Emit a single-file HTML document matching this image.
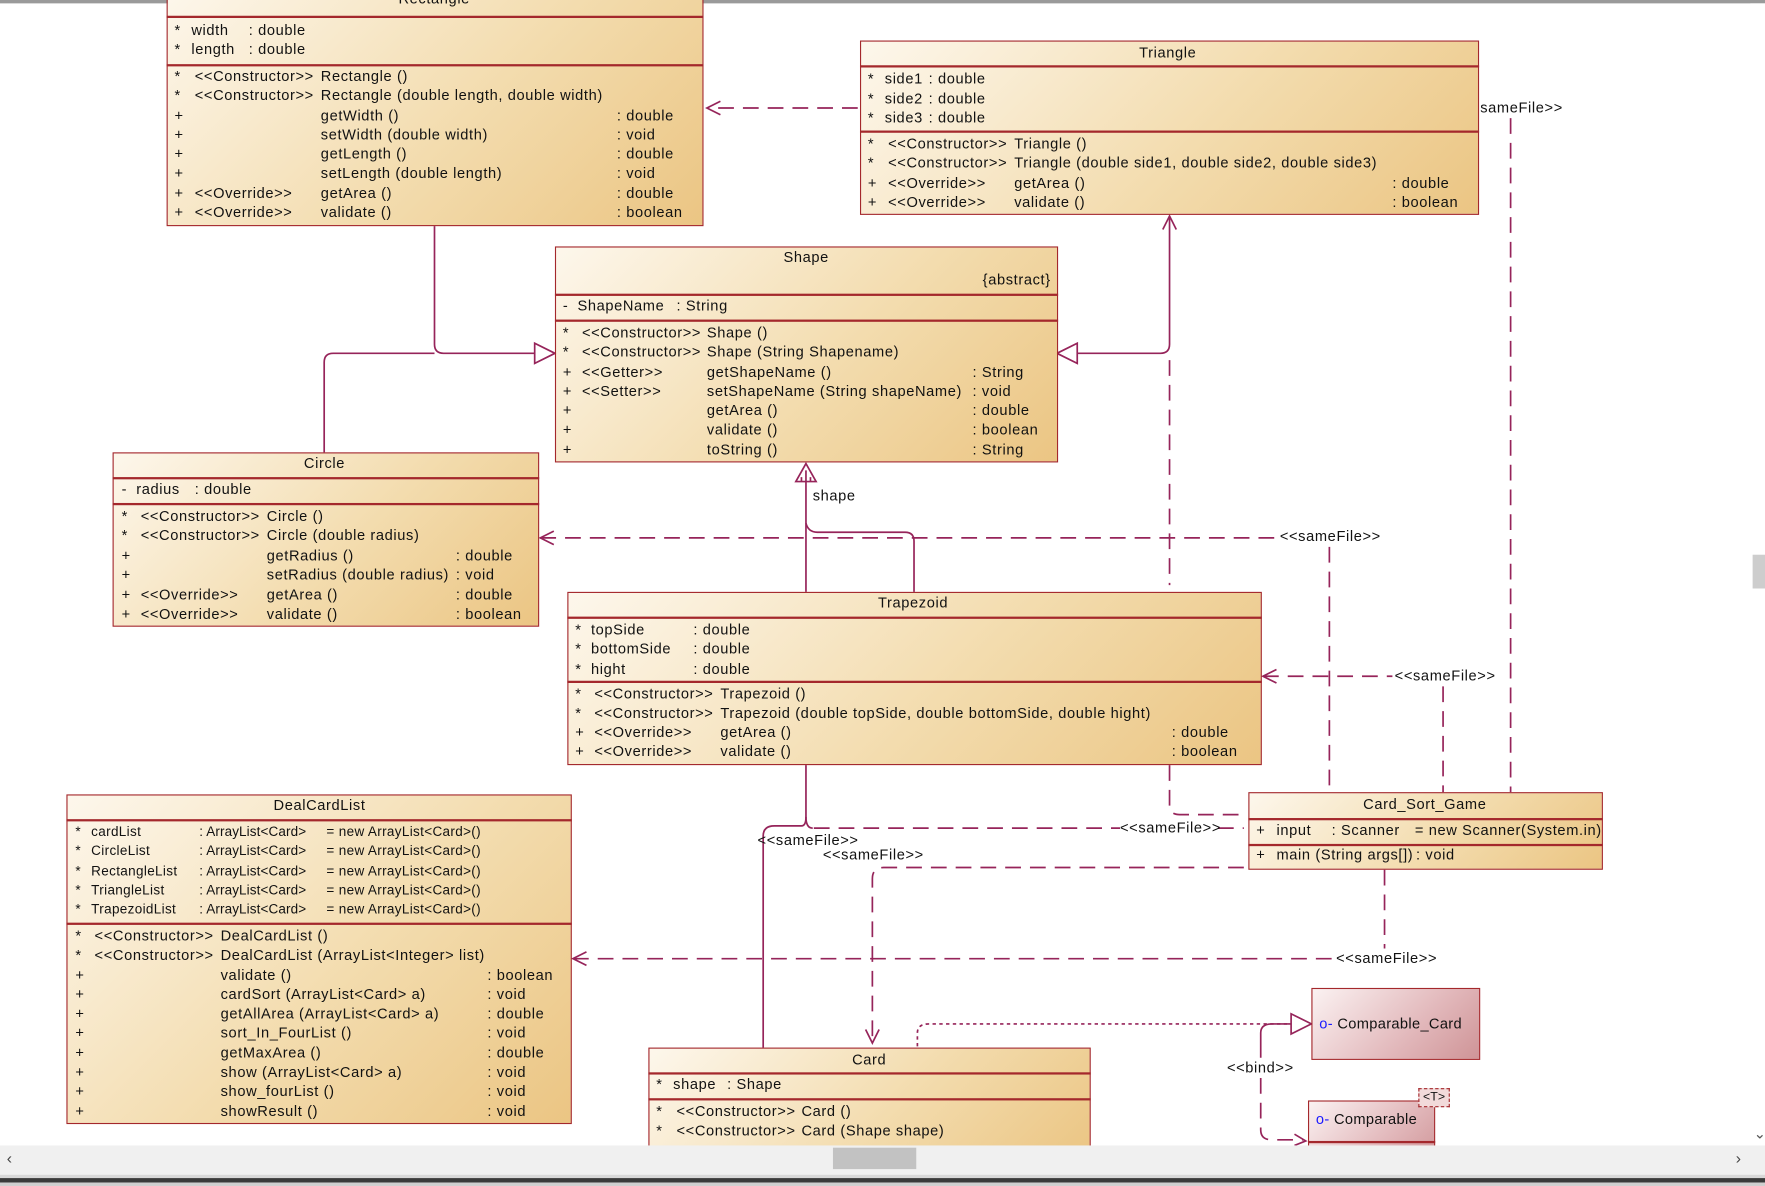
<!DOCTYPE html>
<html><head><meta charset="utf-8"><style>
html,body{margin:0;padding:0;background:#fff;width:1765px;height:1186px;overflow:hidden}
#w{position:absolute;left:0;top:0;width:1568px;height:1054px;transform:scale(1.12564,1.1252);transform-origin:0 0;font-family:"Liberation Sans",sans-serif;font-size:13px;letter-spacing:0.55px;color:#111}
.b{position:absolute;border:1.5px solid #a4282c;background:linear-gradient(135deg,#fdf7ec 0%,#f3dcae 55%,#ebc583 100%);box-sizing:border-box}
.p{position:absolute;border:1.5px solid #a4282c;background:linear-gradient(135deg,#fbf2f2 0%,#e2b8bb 60%,#cf9497 100%);box-sizing:border-box}
.h{position:absolute;height:1.5px;background:#a4282c}
.t{position:absolute;line-height:16px;white-space:pre}
svg{position:absolute;left:0;top:0}
</style></head><body><div id="w">
<div style="position:absolute;left:0;top:0;width:1568px;height:3px;background:#9a9a9a"></div>
<svg width="1568" height="1054" fill="none" stroke="#96245a" stroke-width="1.5">
<g stroke-dasharray="14,8">
<path d="M762 96H628"/><path d="M1342 105V704"/>
<path d="M480 478H1135"/><path d="M1181 486V704"/>
<path d="M1122 601H1237"/><path d="M1282 610V704"/>
<path d="M1039 320V520"/><path d="M1039 680V716Q1039 724 1048 724H1105"/>
<path d="M723 736H995"/><path d="M1082 736H1105"/>
<path d="M1105 771H785Q775 771 775 781V925"/>
<path d="M509 852H1186"/><path d="M1230 773V843"/>
<path d="M1120 958V1004Q1120 1013 1130 1013H1158"/>
</g>
<path d="M815 930V918Q815 910 825 910H1147" stroke-dasharray="3,3"/>
<path d="M1120 940V918Q1120 910 1130 910H1147"/>
<path d="M1165 910L1147 901V919Z"/>
<path d="M1150 1008L1160 1014L1150 1018"/>
<path d="M640 90L628 96L640 102"/>
<path d="M492 484L480 478L492 472"/>
<path d="M1134 607L1122 601L1134 595"/>
<path d="M521 846L509 852L521 858"/>
<path d="M769 915L775 927L781 915"/>
<path d="M1033 204L1039 192L1045 204"/>
<path d="M386 201V306Q386 314 394 314H475"/>
<path d="M288 402V322Q288 314 296 314H386"/>
<path d="M493 314L475 305V323Z"/>
<path d="M1039 192V306Q1039 314 1031 314H957"/>
<path d="M939 314L957 305V323Z"/>
<path d="M716 526V428"/><path d="M716 412L707 428H725Z"/><path d="M716 418V428M712 424V428M720 424V428"/>
<path d="M812 526V481Q812 473 804 473H726Q718 473 716 465"/>
<path d="M716 680V726Q716 736 722 736"/>
<path d="M678 931V743Q678 734 688 734H712Q716 734 716 726"/>
</svg>
<div class="t" style="left:1315px;top:88px">sameFile&gt;&gt;</div>
<div class="t" style="left:1137px;top:469px">&lt;&lt;sameFile&gt;&gt;</div>
<div class="t" style="left:1239px;top:593px">&lt;&lt;sameFile&gt;&gt;</div>
<div class="t" style="left:995px;top:728px">&lt;&lt;sameFile&gt;&gt;</div>
<div class="t" style="left:673px;top:739px">&lt;&lt;sameFile&gt;&gt;</div>
<div class="t" style="left:731px;top:752px">&lt;&lt;sameFile&gt;&gt;</div>
<div class="t" style="left:1187px;top:844px">&lt;&lt;sameFile&gt;&gt;</div>
<div class="t" style="left:722px;top:433px">shape</div>
<div class="t" style="left:1090px;top:941px">&lt;&lt;bind&gt;&gt;</div>

<!-- Rectangle -->
<div class="b" style="left:148px;top:-10px;width:477px;height:211px"></div>
<div class="h" style="left:148px;top:14px;width:477px"></div>
<div class="h" style="left:148px;top:57px;width:477px"></div>
<div class="t" style="left:354px;top:-9px">Rectangle</div>
<div class="t" style="left:155px;top:19px">*</div><div class="t" style="left:170px;top:19px">width</div><div class="t" style="left:221px;top:19px">: double</div>
<div class="t" style="left:155px;top:36px">*</div><div class="t" style="left:170px;top:36px">length</div><div class="t" style="left:221px;top:36px">: double</div>
<div class="t" style="left:155px;top:59px;line-height:17.3px">*
*
+
+
+
+
+
+</div>
<div class="t" style="left:173px;top:59px;line-height:17.3px">&lt;&lt;Constructor&gt;&gt;
&lt;&lt;Constructor&gt;&gt;




&lt;&lt;Override&gt;&gt;
&lt;&lt;Override&gt;&gt;</div>
<div class="t" style="left:285px;top:59px;line-height:17.3px">Rectangle ()
Rectangle (double length, double width)
getWidth ()
setWidth (double width)
getLength ()
setLength (double length)
getArea ()
validate ()</div>
<div class="t" style="left:548px;top:59px;line-height:17.3px">

: double
: void
: double
: void
: double
: boolean</div>

<!-- Triangle -->
<div class="b" style="left:764px;top:36px;width:550px;height:155px"></div>
<div class="h" style="left:764px;top:58px;width:550px"></div>
<div class="h" style="left:764px;top:116px;width:550px"></div>
<div class="t" style="left:1012px;top:39px">Triangle</div>
<div class="t" style="left:771px;top:61px;line-height:17.5px">*
*
*</div>
<div class="t" style="left:786px;top:61px;line-height:17.5px">side1
side2
side3</div>
<div class="t" style="left:825px;top:61px;line-height:17.5px">: double
: double
: double</div>
<div class="t" style="left:771px;top:119px;line-height:17.3px">*
*
+
+</div>
<div class="t" style="left:789px;top:119px;line-height:17.3px">&lt;&lt;Constructor&gt;&gt;
&lt;&lt;Constructor&gt;&gt;
&lt;&lt;Override&gt;&gt;
&lt;&lt;Override&gt;&gt;</div>
<div class="t" style="left:901px;top:119px;line-height:17.3px">Triangle ()
Triangle (double side1, double side2, double side3)
getArea ()
validate ()</div>
<div class="t" style="left:1237px;top:119px;line-height:17.3px">

: double
: boolean</div>

<!-- Shape -->
<div class="b" style="left:493px;top:219px;width:447px;height:192px"></div>
<div class="h" style="left:493px;top:261px;width:447px"></div>
<div class="h" style="left:493px;top:284px;width:447px"></div>
<div class="t" style="left:696px;top:221px">Shape</div>
<div class="t" style="left:873px;top:241px">{abstract}</div>
<div class="t" style="left:500px;top:264px">-</div><div class="t" style="left:513px;top:264px">ShapeName</div><div class="t" style="left:601px;top:264px">: String</div>
<div class="t" style="left:500px;top:287px;line-height:17.3px">*
*
+
+
+
+
+</div>
<div class="t" style="left:517px;top:287px;line-height:17.3px">&lt;&lt;Constructor&gt;&gt;
&lt;&lt;Constructor&gt;&gt;
&lt;&lt;Getter&gt;&gt;
&lt;&lt;Setter&gt;&gt;</div>
<div class="t" style="left:628px;top:287px;line-height:17.3px">Shape ()
Shape (String Shapename)
getShapeName ()
setShapeName (String shapeName)
getArea ()
validate ()
toString ()</div>
<div class="t" style="left:864px;top:287px;line-height:17.3px">

: String
: void
: double
: boolean
: String</div>

<!-- Circle -->
<div class="b" style="left:100px;top:402px;width:379px;height:155px"></div>
<div class="h" style="left:100px;top:424px;width:379px"></div>
<div class="h" style="left:100px;top:447px;width:379px"></div>
<div class="t" style="left:270px;top:404px">Circle</div>
<div class="t" style="left:108px;top:427px">-</div><div class="t" style="left:121px;top:427px">radius</div><div class="t" style="left:173px;top:427px">: double</div>
<div class="t" style="left:108px;top:450px;line-height:17.4px">*
*
+
+
+
+</div>
<div class="t" style="left:125px;top:450px;line-height:17.4px">&lt;&lt;Constructor&gt;&gt;
&lt;&lt;Constructor&gt;&gt;


&lt;&lt;Override&gt;&gt;
&lt;&lt;Override&gt;&gt;</div>
<div class="t" style="left:237px;top:450px;line-height:17.4px">Circle ()
Circle (double radius)
getRadius ()
setRadius (double radius)
getArea ()
validate ()</div>
<div class="t" style="left:405px;top:450px;line-height:17.4px">

: double
: void
: double
: boolean</div>

<!-- Trapezoid -->
<div class="b" style="left:504px;top:526px;width:617px;height:154px"></div>
<div class="h" style="left:504px;top:548px;width:617px"></div>
<div class="h" style="left:504px;top:605px;width:617px"></div>
<div class="t" style="left:780px;top:528px">Trapezoid</div>
<div class="t" style="left:511px;top:551px;line-height:17.4px">*
*
*</div>
<div class="t" style="left:525px;top:551px;line-height:17.4px">topSide
bottomSide
hight</div>
<div class="t" style="left:616px;top:551px;line-height:17.4px">: double
: double
: double</div>
<div class="t" style="left:511px;top:608px;line-height:17.1px">*
*
+
+</div>
<div class="t" style="left:528px;top:608px;line-height:17.1px">&lt;&lt;Constructor&gt;&gt;
&lt;&lt;Constructor&gt;&gt;
&lt;&lt;Override&gt;&gt;
&lt;&lt;Override&gt;&gt;</div>
<div class="t" style="left:640px;top:608px;line-height:17.1px">Trapezoid ()
Trapezoid (double topSide, double bottomSide, double hight)
getArea ()
validate ()</div>
<div class="t" style="left:1041px;top:608px;line-height:17.1px">

: double
: boolean</div>

<!-- DealCardList -->
<div class="b" style="left:59px;top:706px;width:449px;height:293px"></div>
<div class="h" style="left:59px;top:728px;width:449px"></div>
<div class="h" style="left:59px;top:820px;width:449px"></div>
<div class="t" style="left:243px;top:708px">DealCardList</div>
<div class="t" style="left:67px;top:731px;line-height:17.3px;font-size:12px;letter-spacing:0.3px">*
*
*
*
*</div>
<div class="t" style="left:81px;top:731px;line-height:17.3px;font-size:12px;letter-spacing:0.3px">cardList
CircleList
RectangleList
TriangleList
TrapezoidList</div>
<div class="t" style="left:177px;top:731px;line-height:17.3px;font-size:12px;letter-spacing:0.1px">: ArrayList&lt;Card&gt;
: ArrayList&lt;Card&gt;
: ArrayList&lt;Card&gt;
: ArrayList&lt;Card&gt;
: ArrayList&lt;Card&gt;</div>
<div class="t" style="left:290px;top:731px;line-height:17.3px;font-size:12px;letter-spacing:0.3px">= new ArrayList&lt;Card&gt;()
= new ArrayList&lt;Card&gt;()
= new ArrayList&lt;Card&gt;()
= new ArrayList&lt;Card&gt;()
= new ArrayList&lt;Card&gt;()</div>
<div class="t" style="left:67px;top:823px;line-height:17.3px">*
*
+
+
+
+
+
+
+
+</div>
<div class="t" style="left:84px;top:823px;line-height:17.3px">&lt;&lt;Constructor&gt;&gt;
&lt;&lt;Constructor&gt;&gt;</div>
<div class="t" style="left:196px;top:823px;line-height:17.3px">DealCardList ()
DealCardList (ArrayList&lt;Integer&gt; list)
validate ()
cardSort (ArrayList&lt;Card&gt; a)
getAllArea (ArrayList&lt;Card&gt; a)
sort_In_FourList ()
getMaxArea ()
show (ArrayList&lt;Card&gt; a)
show_fourList ()
showResult ()</div>
<div class="t" style="left:433px;top:823px;line-height:17.3px">

: boolean
: void
: double
: void
: double
: void
: void
: void</div>

<!-- Card_Sort_Game -->
<div class="b" style="left:1109px;top:704px;width:315px;height:69px"></div>
<div class="h" style="left:1109px;top:727px;width:315px"></div>
<div class="h" style="left:1109px;top:750px;width:315px"></div>
<div class="t" style="left:1211px;top:707px">Card_Sort_Game</div>
<div class="t" style="left:1116px;top:730px">+</div><div class="t" style="left:1134px;top:730px">input</div><div class="t" style="left:1183px;top:730px">: Scanner</div><div class="t" style="left:1257px;top:730px">= new Scanner(System.in)</div>
<div class="t" style="left:1116px;top:752px">+</div><div class="t" style="left:1134px;top:752px">main (String args[])</div><div class="t" style="left:1258px;top:752px">: void</div>

<!-- Card -->
<div class="b" style="left:576px;top:931px;width:393px;height:100px"></div>
<div class="h" style="left:576px;top:953px;width:393px"></div>
<div class="h" style="left:576px;top:976px;width:393px"></div>
<div class="t" style="left:757px;top:934px">Card</div>
<div class="t" style="left:583px;top:956px">*</div><div class="t" style="left:598px;top:956px">shape</div><div class="t" style="left:646px;top:956px">: Shape</div>
<div class="t" style="left:583px;top:979px;line-height:17.3px">*
*</div>
<div class="t" style="left:601px;top:979px;line-height:17.3px">&lt;&lt;Constructor&gt;&gt;
&lt;&lt;Constructor&gt;&gt;</div>
<div class="t" style="left:712px;top:979px;line-height:17.3px">Card ()
Card (Shape shape)</div>

<!-- Comparable_Card -->
<div class="p" style="left:1165px;top:878px;width:150px;height:64px"></div>
<div class="t" style="left:1172px;top:902px;letter-spacing:0.3px"><span style="color:#1a1aff">o-</span> Comparable_Card</div>
<div class="p" style="left:1162px;top:978px;width:113px;height:60px"></div>
<div class="h" style="left:1162px;top:1014px;width:113px"></div>
<div class="t" style="left:1169px;top:987px;letter-spacing:0.3px"><span style="color:#1a1aff">o-</span> Comparable</div>
<div style="position:absolute;left:1260px;top:967px;width:26px;height:15px;border:1px dashed #a4282c;background:#f2dada;font-size:11px;letter-spacing:0;line-height:15px;text-align:center">&lt;T&gt;</div>

<!-- scrollbars -->
<div style="position:absolute;left:1555px;top:3px;width:13px;height:1017px;background:#fff"></div>
<div style="position:absolute;left:1557px;top:493px;width:11px;height:30px;background:#cdcdcd"></div>
<div class="t" style="left:1558px;top:1000px;color:#555">&#8964;</div>
<div style="position:absolute;left:0;top:1018px;width:1568px;height:26px;background:#f0f0f0"></div>
<div style="position:absolute;left:740px;top:1020px;width:74px;height:19px;background:#c2c2c2"></div>
<div class="t" style="left:6px;top:1021px;color:#444;font-size:14px">&#8249;</div>
<div class="t" style="left:1542px;top:1021px;color:#444;font-size:14px">&#8250;</div>
<div style="position:absolute;left:0;top:1044px;width:1568px;height:3px;background:#d8d8d8"></div>
<div style="position:absolute;left:0;top:1047px;width:1568px;height:4px;background:#3a3a3a"></div>
<div style="position:absolute;left:0;top:1051px;width:1568px;height:3px;background:#cfcfcf"></div>
</div></body></html>
